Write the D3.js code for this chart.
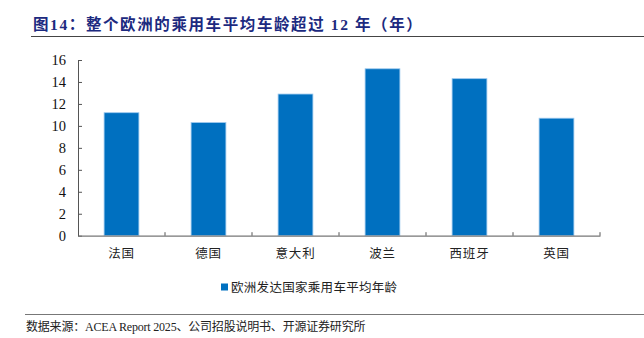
<!DOCTYPE html>
<html><head><meta charset="utf-8">
<script src="https://cdn.jsdelivr.net/npm/d3@7"></script>
<style>body{margin:0;background:#fff}svg{display:block}</style>
</head><body>
<script>
const categories = ["法国","德国","意大利","波兰","西班牙","英国"];
const values = [11.2, 10.3, 12.9, 15.2, 14.3, 10.7];
const yTicks = [0,2,4,6,8,10,12,14,16];
const seriesName = "欧洲发达国家乘用车平均年龄";
const titleText = "图14：整个欧洲的乘用车平均车龄超过 12  年（年）";
const sourceText = "数据来源：ACEA Report 2025、公司招股说明书、开源证券研究所";

const W = 644, H = 338;
const svg = d3.select("body").append("svg").attr("width", W).attr("height", H);
const cjk = "'Noto Sans CJK SC', sans-serif";
const serifCjk = "'Liberation Serif', 'Noto Sans CJK SC', serif";
const serif = "'Liberation Serif', 'Times New Roman', serif";

// title
svg.append("text").attr("x", 33).attr("y", 30)
  .attr("font-family", serifCjk).attr("font-weight", "bold").attr("font-size", 15.5)
  .attr("letter-spacing", 1.6)
  .attr("fill", "#1c2a80").text(titleText);
svg.append("line").attr("x1", 31).attr("x2", 644).attr("y1", 36.5).attr("y2", 36.5)
  .attr("stroke", "#444").attr("stroke-width", 1.2);

const x0 = 78, x1 = 600, y0 = 235.7, yTop = 60;
const x = d3.scaleBand().domain(categories).range([x0, x1]).paddingInner(0.6).paddingOuter(0.3);
const y = d3.scaleLinear().domain([0, 16]).range([y0, yTop]);

// bars
svg.selectAll("rect.bar").data(values).enter().append("rect")
  .attr("x", (d, i) => x(categories[i]))
  .attr("y", d => y(d))
  .attr("width", x.bandwidth())
  .attr("height", d => y0 - y(d))
  .attr("fill", "#0070c0").attr("stroke", "#9cc8ee").attr("stroke-width", 0.8);

// y axis
const yAxis = d3.axisLeft(y).tickValues(yTicks).tickSize(0).tickPadding(12);
const gy = svg.append("g").attr("transform", `translate(${x0},0)`).call(yAxis);
gy.select(".domain").attr("stroke", "#555");
gy.selectAll("text").attr("font-family", serif).attr("font-size", 14.5).attr("fill", "#111");
gy.selectAll(".tick").append("line").attr("x1", 0).attr("x2", 4).attr("stroke", "#555");

// x axis
const xAxis = d3.axisBottom(x).tickSize(0).tickPadding(13);
const gx = svg.append("g").attr("transform", `translate(0,${y0})`).call(xAxis);
gx.select(".domain").attr("stroke", "#777").attr("stroke-width", 1.3);
gx.selectAll("text").attr("font-family", cjk).attr("font-size", 12.5).attr("fill", "#222")
  .attr("letter-spacing", 0.8);
const bounds = categories.map(c => x(c) - x.step() * x.paddingInner() / 2 + x.step());
svg.selectAll("line.xt").data(bounds).enter().append("line")
  .attr("x1", d => d).attr("x2", d => d).attr("y1", y0).attr("y2", y0 - 3.5)
  .attr("stroke", "#555");

// legend
svg.append("rect").attr("x", 221).attr("y", 283.5).attr("width", 7).attr("height", 7).attr("fill", "#0070c0");
svg.append("text").attr("x", 231).attr("y", 292).attr("font-family", cjk).attr("font-size", 12.5)
  .attr("letter-spacing", 0.3)
  .attr("fill", "#222").text(seriesName);

// source
svg.append("line").attr("x1", 25).attr("x2", 644).attr("y1", 314.5).attr("y2", 314.5)
  .attr("stroke", "#777").attr("stroke-width", 1.2);
svg.append("text").attr("x", 26).attr("y", 331).attr("font-family", serifCjk).attr("font-size", 12)
  .attr("letter-spacing", -0.2)
  .attr("fill", "#222").text(sourceText);
</script>
</body></html>
